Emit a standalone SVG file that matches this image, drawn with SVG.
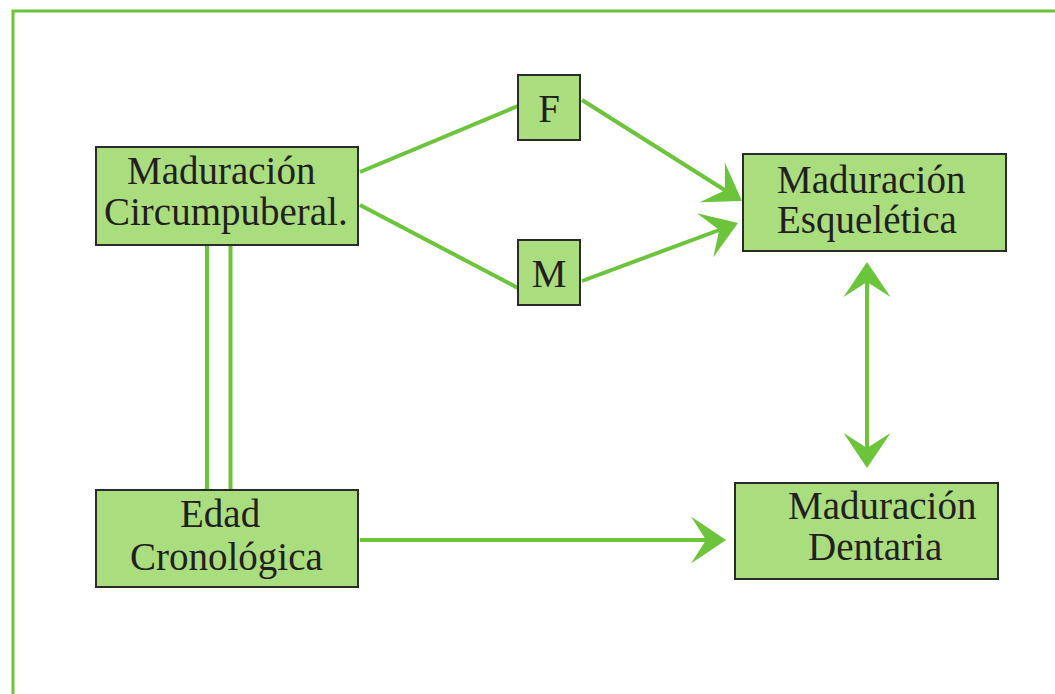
<svg xmlns="http://www.w3.org/2000/svg" width="1055" height="694" viewBox="0 0 1055 694">
  <style>
    .node rect { fill: #aadd7e; stroke: #2b2b2b; stroke-width: 2; }
    .node text { font-size: 39px; fill: #231f20; }
    .conn line { stroke: #6bc43a; stroke-width: 4; fill: none; }
  </style>
  <defs>
    <marker id="arrow" markerUnits="userSpaceOnUse" viewBox="-36 -25 37 50" refX="-20" refY="0" markerWidth="37" markerHeight="50" orient="auto-start-reverse">
      <path d="M0,0 L-35,-23.5 L-20,0 L-35,23.5 Z" fill="#6bc43a"/>
    </marker>
  </defs>
  <rect x="0" y="0" width="1055" height="694" fill="#ffffff"/>
  <rect id="frame" x="13" y="11" width="1100" height="800" fill="none" stroke="#6bc43a" stroke-width="3"/>

  <g id="connectors" class="conn">
    <line x1="360" y1="172" x2="518" y2="106"/>
    <line x1="360" y1="205" x2="518" y2="288"/>
    <line x1="582" y1="100" x2="725" y2="190.3" marker-end="url(#arrow)"/>
    <line x1="582" y1="281" x2="719.2" y2="230" marker-end="url(#arrow)"/>
    <line x1="207" y1="245" x2="207" y2="490"/>
    <line x1="230.5" y1="245" x2="230.5" y2="490"/>
    <line x1="360" y1="540" x2="706" y2="540" marker-end="url(#arrow)"/>
    <line x1="867" y1="282" x2="867" y2="448" marker-start="url(#arrow)" marker-end="url(#arrow)"/>
  </g>

  <g font-family="'Liberation Serif', 'DejaVu Serif', 'Times New Roman', serif">
  <g id="circumpuberal" class="node">
    <rect x="96" y="147" width="262" height="98"/>
    <text x="127" y="184">Maduración</text>
    <text x="104" y="225">Circumpuberal.</text>
  </g>
  <g id="F" class="node">
    <rect x="518" y="75" width="62" height="65"/>
    <text x="549" y="122" text-anchor="middle">F</text>
  </g>
  <g id="M" class="node">
    <rect x="518" y="240" width="62" height="65"/>
    <text x="549" y="287" text-anchor="middle">M</text>
  </g>
  <g id="esqueletica" class="node">
    <rect x="743" y="154" width="263" height="97"/>
    <text x="777" y="193">Maduración</text>
    <text x="777" y="233">Esquelética</text>
  </g>
  <g id="edad" class="node">
    <rect x="96" y="490" width="262" height="97"/>
    <text x="180" y="527">Edad</text>
    <text x="130" y="570">Cronológica</text>
  </g>
  <g id="dentaria" class="node">
    <rect x="735" y="483" width="263" height="96"/>
    <text x="788" y="519">Maduración</text>
    <text x="808" y="560">Dentaria</text>
  </g>
  </g>
</svg>
